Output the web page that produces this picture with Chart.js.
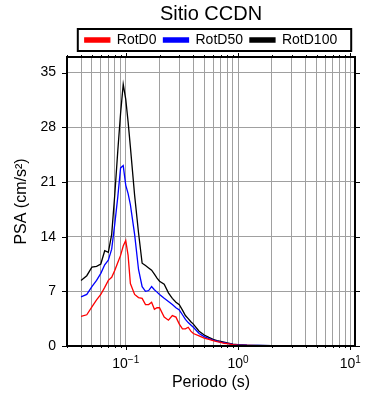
<!DOCTYPE html>
<html>
<head>
<meta charset="utf-8">
<script src="https://cdn.jsdelivr.net/npm/chart.js@4/dist/chart.umd.min.js"></script>
<style>
  body { margin: 0; background: #fff; }
  #wrap { width: 390px; height: 400px; }
</style>
</head>
<body>
<div id="wrap"><canvas id="myChart"></canvas></div>
<script>
// periods (s)
var periods = [0.04,0.045,0.05,0.055,0.06,0.065,0.07,0.075,0.08,0.085,
  0.09,0.095,0.1,0.105,0.11,0.12,0.13,0.14,0.15,0.16,
  0.17,0.18,0.19,0.2,0.22,0.24,0.26,0.28,0.3,0.32,
  0.34,0.36,0.38,0.4,0.45,0.5,0.55,0.6,0.65,0.7,
  0.75,0.8,0.9,1.0,1.2,1.5,2,3,5,7.5,10];

var rotD0 = [3.8,4.0,5.0,5.9,6.6,7.5,8.4,8.8,9.7,10.7,
  11.6,12.8,13.5,11.6,8.0,6.6,6.2,6.1,5.3,5.3,
  5.6,4.7,4.9,4.9,3.7,3.3,3.9,3.7,2.8,2.2,
  2.2,2.4,1.9,1.6,1.3,1.0,0.85,0.7,0.55,0.45,
  0.35,0.3,0.18,0.12,0.08,0.05,0.03,0.02,0.01,0.008,0.005];

var rotD50 = [6.3,6.6,7.6,8.4,9.3,10.4,11.0,12.4,15.7,19.1,
  22.8,23.1,20.6,19.5,18.1,14.3,9.8,7.6,7.0,7.1,
  7.6,7.2,6.9,6.6,6.1,5.7,5.3,4.9,4.6,4.0,
  3.4,3.0,2.7,2.4,1.6,1.2,0.95,0.75,0.62,0.5,
  0.42,0.35,0.22,0.15,0.1,0.07,0.04,0.025,0.015,0.01,0.008];

var rotD100 = [8.4,9.0,10.1,10.2,10.5,12.2,12.0,14.3,19.5,25.0,
  29.8,33.5,31.6,28.7,25.5,19.3,14.5,10.6,10.3,10.0,
  9.7,9.2,8.7,8.3,7.9,6.8,6.1,5.6,5.3,4.6,
  3.9,3.5,3.1,2.8,1.9,1.4,1.1,0.85,0.7,0.6,
  0.5,0.4,0.25,0.18,0.12,0.08,0.05,0.03,0.02,0.015,0.01];

var yTicks = [0,7,14,21,28,35];
var xDecades = [0.1,1,10];
var xExponents = ['\u22121','0','1'];

var FONT = "'Liberation Sans', Arial, Helvetica, sans-serif";

function isDecade(v) {
  var l = Math.log10(v);
  return Math.abs(l - Math.round(l)) < 1e-6;
}

// all minor/major log ticks 0.03 .. 10
var xTicks = [];
[0.01,0.1,1,10].forEach(function(d){
  for (var m=1; m<=9; m++) {
    var v = +(m*d).toPrecision(3);
    if (v >= 0.03 && v <= 11) xTicks.push(v);
  }
});

function pts(vals) {
  return periods.map(function(p,i){ return {x:p, y:vals[i]}; });
}

var frameTicks = {
  id: 'frameTicks',
  afterDraw: function(chart) {
    var ctx = chart.ctx, a = chart.chartArea;
    var x = chart.scales.x, y = chart.scales.y;
    ctx.save();
    ctx.strokeStyle = '#000';
    ctx.lineWidth = 1;
    ctx.beginPath();
    xTicks.forEach(function(v){
      var px = Math.round(x.getPixelForValue(v)) + 0.5;
      var len = isDecade(v) ? 4 : 2;
      ctx.moveTo(px, a.bottom); ctx.lineTo(px, a.bottom + len);
      ctx.moveTo(px, a.top); ctx.lineTo(px, a.top - len);
    });
    yTicks.forEach(function(v){
      var py = Math.round(y.getPixelForValue(v)) + 0.5;
      ctx.moveTo(a.left - 5, py); ctx.lineTo(a.left, py);
      ctx.moveTo(a.right, py); ctx.lineTo(a.right + 5, py);
    });
    ctx.stroke();

    // frame
    ctx.lineWidth = 2;
    ctx.strokeRect(a.left, a.top, a.right - a.left, a.bottom - a.top);

    // decade labels 10^n
    ctx.fillStyle = '#000';
    ctx.textBaseline = 'alphabetic';
    ctx.textAlign = 'left';
    xDecades.forEach(function(v, i){
      var px = x.getPixelForValue(v);
      ctx.font = '14px ' + FONT;
      var w1 = ctx.measureText('10').width;
      ctx.font = '10px ' + FONT;
      var w2 = ctx.measureText(xExponents[i]).width;
      var x0 = px - (w1 + w2) / 2;
      ctx.font = '14px ' + FONT;
      ctx.fillText('10', x0, a.bottom + 22);
      ctx.font = '10px ' + FONT;
      ctx.fillText(xExponents[i], x0 + w1, a.bottom + 17);
    });

    // legend box
    var hb = chart.legend.legendHitBoxes;
    if (hb && hb.length) {
      var l = hb[0].left - 7;
      var last = hb[hb.length - 1];
      var r = last.left + last.width + 14;
      var t = hb[0].top - 4;
      var b = hb[0].top + hb[0].height + 4;
      ctx.lineWidth = 2;
      ctx.strokeRect(l, t, r - l, b - t);
    }
    ctx.restore();
  }
};

var chartdata = {
  datasets: [
    { label: 'RotD0', data: pts(rotD0), borderColor: '#ff0000', backgroundColor: '#ff0000' },
    { label: 'RotD50', data: pts(rotD50), borderColor: '#0000ff', backgroundColor: '#0000ff' },
    { label: 'RotD100', data: pts(rotD100), borderColor: '#000000', backgroundColor: '#000000' }
  ]
};

var ctx = document.getElementById('myChart').getContext('2d');
var myChart = new Chart(ctx, {
  type: 'line',
  data: chartdata,
  plugins: [frameTicks],
  options: {
    responsive: true,
    maintainAspectRatio: false,
    animation: false,
    layout: { padding: { left: 0, right: 35, top: 0, bottom: 0 } },
    elements: {
      point: { radius: 0 },
      line: { borderWidth: 1.3, tension: 0 }
    },
    plugins: {
      title: {
        display: true,
        fullSize: false,
        text: 'Sitio CCDN',
        color: '#000',
        font: { family: FONT, size: 20, weight: 'normal' },
        padding: { top: 2, bottom: 0 }
      },
      legend: {
        display: true,
        fullSize: false,
        labels: {
          color: '#000',
          font: { family: FONT, size: 14 },
          boxWidth: 25,
          boxHeight: 4,
          padding: 7
        }
      },
      tooltip: { enabled: false }
    },
    scales: {
      x: {
        type: 'logarithmic',
        min: 0.03,
        max: 11,
        afterBuildTicks: function(scale){ scale.ticks = xTicks.map(function(v){ return {value: v}; }); },
        afterFit: function(scale){ scale.height = 54; },
        ticks: { display: false },
        grid: { color: '#a0a0a0', lineWidth: 1, drawTicks: false },
        border: { display: false },
        title: {
          display: true,
          text: 'Periodo (s)',
          color: '#000',
          font: { family: FONT, size: 16 },
          padding: { top: 0, bottom: 8 }
        }
      },
      y: {
        min: 0,
        max: 37,
        afterBuildTicks: function(scale){ scale.ticks = yTicks.map(function(v){ return {value: v}; }); },
        afterFit: function(scale){ scale.width = 67; },
        ticks: {
          color: '#000',
          font: { family: FONT, size: 14 },
          padding: 11
        },
        grid: { color: '#a0a0a0', lineWidth: 1, drawTicks: false },
        border: { display: false },
        title: {
          display: true,
          text: 'PSA (cm/s\u00b2)',
          color: '#000',
          font: { family: FONT, size: 16 },
          padding: { top: 12, bottom: 0 }
        }
      }
    }
  }
});
</script>
</body>
</html>
